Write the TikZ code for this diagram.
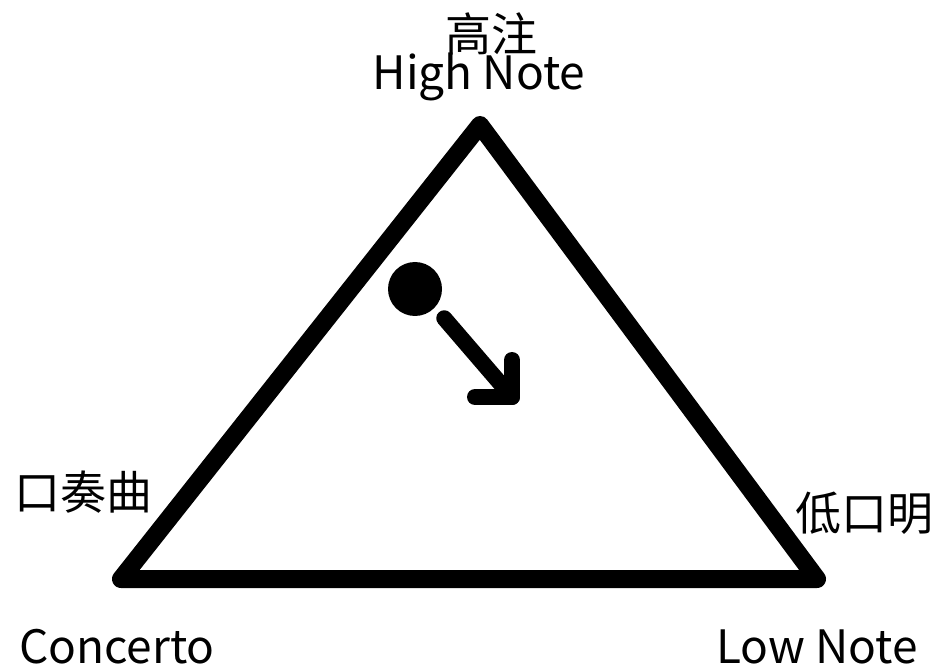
\documentclass[tikz,border=0pt]{standalone}
\usepackage{fontspec}
\setmainfont{Noto Sans CJK SC}
\usetikzlibrary{positioning}

\begin{document}
\begin{tikzpicture}[
  x=1pt, y=-1pt,
  edge/.style={line width=18pt, line join=round, line cap=round},
  pointer/.style={line width=16pt, line cap=round, line join=round},
  cornerlabel/.style={font=\fontsize{46}{50}\selectfont, inner sep=0pt},
]
\useasboundingbox (0,0) rectangle (937,668);

% Eckpunkte
\coordinate (top) at (480,125);
\coordinate (left) at (121,579);
\coordinate (right) at (817,579);

% Dreieck
\draw[edge] (top) -- (left) -- (right) -- cycle;

% Punkt mit Pfeil
\node[circle, fill, inner sep=0pt, minimum size=54pt] (dot) at (415,289) {};
\coordinate (tip) at (512,397);
\draw[pointer] (dot.-45) ++(10,10) -- (tip);
\draw[pointer] (512,360) -- (tip) -- (475,397);

% Beschriftungen
\node[cornerlabel] (topcn) at (491,34) {高注};
\node[cornerlabel, anchor=base] (topen) at (479,90) {High Note};
\node[cornerlabel] (leftcn) at (83,492) {口奏曲};
\node[cornerlabel, anchor=base] (leften) at (117,663) {Concerto};
\node[cornerlabel] (rightcn) at (864,513) {低口明};
\node[cornerlabel, anchor=base] (righten) at (817,663) {Low Note};

\end{tikzpicture}
\end{document}
